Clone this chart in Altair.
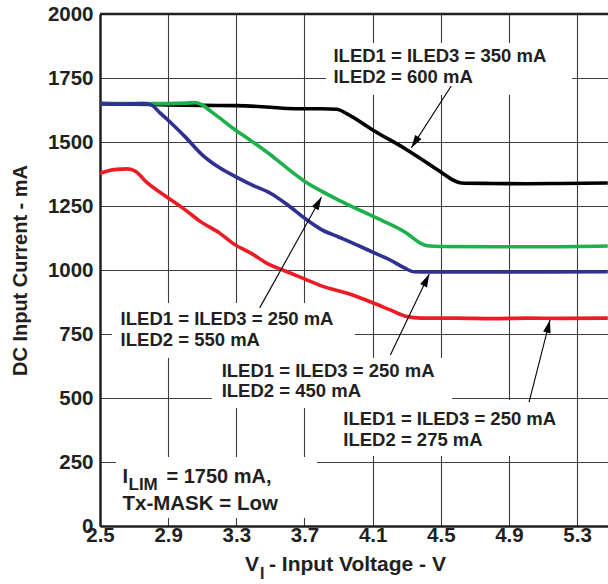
import math
import altair as alt
import pandas as pd

FONT = "Liberation Sans"

# ---------------- data ----------------
x_ticks = [2.5, 2.9, 3.3, 3.7, 4.1, 4.5, 4.9, 5.3]
y_ticks = [0, 250, 500, 750, 1000, 1250, 1500, 1750, 2000]

black_v = [2.5, 2.7, 2.9, 3.1, 3.3, 3.5, 3.6, 3.7, 3.8, 3.89, 3.95, 4.1, 4.3, 4.5, 4.57, 4.62, 4.8, 5.0, 5.2, 5.48]
black_i = [1650, 1648, 1645, 1643, 1642, 1636, 1631, 1630, 1630, 1628, 1610, 1547, 1470, 1383, 1352, 1340, 1338, 1337, 1338, 1340]

green_v = [2.5, 2.8, 3.0, 3.06, 3.1, 3.15, 3.2, 3.28, 3.38, 3.5, 3.6, 3.7, 3.8, 3.9, 4.1, 4.3, 4.38, 4.42, 4.5, 4.8, 5.1, 5.48]
green_i = [1650, 1650, 1652, 1654, 1645, 1620, 1595, 1554, 1508, 1450, 1397, 1347, 1308, 1273, 1210, 1144, 1105, 1095, 1092, 1091, 1091, 1094]

blue_v = [2.5, 2.6, 2.75, 2.8, 2.85, 2.9, 3.0, 3.1, 3.2, 3.3, 3.4, 3.5, 3.6, 3.7, 3.8, 3.9, 4.0, 4.1, 4.2, 4.29, 4.34, 4.45, 4.8, 5.1, 5.48]
blue_i = [1650, 1648, 1650, 1645, 1615, 1585, 1520, 1450, 1400, 1363, 1330, 1300, 1255, 1203, 1158, 1129, 1100, 1070, 1040, 1007, 993, 992, 992, 992, 993]

red_v = [2.5, 2.55, 2.6, 2.66, 2.71, 2.77, 2.89, 3.0, 3.09, 3.2, 3.28, 3.4, 3.48, 3.58, 3.7, 3.8, 3.96, 4.09, 4.2, 4.3, 4.38, 4.6, 4.8, 5.0, 5.2, 5.48]
red_i = [1378, 1388, 1393, 1395, 1385, 1345, 1286, 1235, 1189, 1145, 1104, 1060, 1026, 998, 965, 938, 907, 875, 845, 818, 812, 812, 810, 812, 811, 812]

series_names = ["600", "550", "450", "275"]
series_colors = ["#000000", "#1db14b", "#2e3192", "#ed1c24"]

# annotation text lines (left x in V, baseline in mA)
label_text = [
    "ILED1 = ILED3 = 350 mA", "ILED2 = 600 mA",
    "ILED1 = ILED3 = 250 mA", "ILED2 = 550 mA",
    "ILED1 = ILED3 = 250 mA", "ILED2 = 450 mA",
    "ILED1 = ILED3 = 250 mA", "ILED2 = 275 mA",
]
label_v = [3.870, 3.870, 2.621, 2.621, 3.214, 3.214, 3.928, 3.928]
label_i = [1812, 1730, 785, 703, 582, 504, 395, 312]

# white label boxes (V, mA)
box_v1 = [3.826, 2.570, 3.157, 2.594, 3.879]
box_v2 = [5.270, 3.996, 4.566, 3.773, 5.229]
box_i1 = [1887, 871, 656, 270, 492]
box_i2 = [1684, 656, 461, 31, 273]

# arrows: tail -> tip (V, mA)
arrow_v1 = [4.561, 3.437, 4.204, 5.018]
arrow_i1 = [1719, 852, 668, 484]
arrow_v2 = [4.327, 3.800, 4.432, 5.141]
arrow_i2 = [1477, 1285, 984, 805]

# ---------------- layout ----------------
W, H = 508, 512
X_MAX = 2.5 + W / 170.4
xs = alt.Scale(domain=[2.5, X_MAX], nice=False, zero=False)
ys = alt.Scale(domain=[0, 2000], nice=False)
PX_PER_V = W / (X_MAX - 2.5)
PX_PER_MA = H / 2000

x_axis = alt.Axis(values=x_ticks, format=".1f", title=None, ticks=False, labelFlush=False,
                  labelPadding=-1, grid=True)
y_axis = alt.Axis(values=y_ticks, format="d", title="DC Input Current - mA", ticks=False,
                  labelPadding=7, grid=True, titlePadding=17)


def X(f):
    return alt.X(f, type="quantitative", scale=xs, axis=x_axis)


def Y(f):
    return alt.Y(f, type="quantitative", scale=ys, axis=y_axis)


rows = []
for name, vs, is_ in zip(series_names, [black_v, green_v, blue_v, red_v],
                          [black_i, green_i, blue_i, red_i]):
    for k, (v, i) in enumerate(zip(vs, is_)):
        rows.append({"s": name, "v": v, "i": i, "o": k})
curves = pd.DataFrame(rows)

boxes = pd.DataFrame({"v": box_v1, "v2": box_v2, "i": box_i1, "i2": box_i2})
labels = pd.DataFrame({"t": label_text, "v": label_v, "i": label_i})
arrows = pd.DataFrame({"v": arrow_v1, "i": arrow_i1, "v2": arrow_v2, "i2": arrow_i2})
arrows["ang"] = [
    (math.degrees(math.atan2((b - a) * PX_PER_V, (d - c) * PX_PER_MA)) + 360) % 360
    for a, b, c, d in zip(arrow_v1, arrow_v2, arrow_i1, arrow_i2)
]
tips = pd.DataFrame({"v": arrow_v2, "i": arrow_i2, "ang": arrows["ang"]})

TXT = "#231f20"

base_lines = alt.Chart(curves).mark_line(strokeWidth=3.6, interpolate="monotone").encode(
    x=X("v"), y=Y("i"),
    color=alt.Color("s:N", scale=alt.Scale(domain=series_names, range=series_colors), legend=None),
    order="o:Q",
)

box_layer = alt.Chart(boxes).mark_rect(fill="white", stroke=None).encode(
    x=X("v"), x2="v2", y=Y("i"), y2="i2"
)

top_border = alt.Chart(pd.DataFrame({"i": [2000]})).mark_rule(color=TXT, strokeWidth=2.5).encode(
    y=Y("i")
)

arrow_lines = alt.Chart(arrows).mark_rule(color="black", strokeWidth=1.1).encode(
    x=X("v"), y=Y("i"), x2="v2", y2="i2"
)

arrow_heads = alt.Chart(tips).mark_point(
    shape="M0,0L0.5,1.7L-0.5,1.7Z", filled=True, fill="black", opacity=1, size=231, strokeWidth=0
).encode(x=X("v"), y=Y("i"), angle=alt.Angle("ang:Q", scale=None))

label_layer = alt.Chart(labels).mark_text(
    align="left", baseline="alphabetic", font=FONT, fontSize=18.5, fontWeight="bold", color=TXT
).encode(x=X("v"), y=Y("i"), text="t:N")

# I_LIM note
ilim_v = [2.632]
ilim_i = [168]
tx_i = [62]
ilim_main = alt.Chart(pd.DataFrame({"v": ilim_v, "i": ilim_i, "t": ["I"]})).mark_text(
    align="left", baseline="alphabetic", font=FONT, fontSize=20, fontWeight="bold", color=TXT
).encode(x=X("v"), y=Y("i"), text="t:N")
ilim_sub = alt.Chart(pd.DataFrame({"v": ilim_v, "i": ilim_i, "t": ["LIM"]})).mark_text(
    align="left", baseline="alphabetic", font=FONT, fontSize=17, fontWeight="bold", color=TXT,
    dx=6, dy=7
).encode(x=X("v"), y=Y("i"), text="t:N")
ilim_rest = alt.Chart(pd.DataFrame({"v": ilim_v, "i": ilim_i, "t": ["= 1750 mA,"]})).mark_text(
    align="left", baseline="alphabetic", font=FONT, fontSize=20, fontWeight="bold", color=TXT,
    dx=44
).encode(x=X("v"), y=Y("i"), text="t:N")
tx_line = alt.Chart(pd.DataFrame({"v": ilim_v, "i": tx_i, "t": ["Tx-MASK = Low"]})).mark_text(
    align="left", baseline="alphabetic", font=FONT, fontSize=20.5, fontWeight="bold", color=TXT
).encode(x=X("v"), y=Y("i"), text="t:N")

# x-axis title with subscript
dummy = pd.DataFrame({"t": ["x"]})
xt_v = alt.Chart(dummy).mark_text(
    align="left", baseline="alphabetic", font=FONT, fontSize=21, fontWeight="bold", color=TXT
).encode(x=alt.value(145), y=alt.value(557), text=alt.value("V"))
xt_sub = alt.Chart(dummy).mark_text(
    align="left", baseline="alphabetic", font=FONT, fontSize=16, fontWeight="bold", color=TXT
).encode(x=alt.value(160), y=alt.value(565), text=alt.value("I"))
xt_rest = alt.Chart(dummy).mark_text(
    align="left", baseline="alphabetic", font=FONT, fontSize=21, fontWeight="bold", color=TXT
).encode(x=alt.value(169), y=alt.value(557), text=alt.value("- Input Voltage - V"))

chart = alt.layer(
    box_layer, base_lines, arrow_lines, arrow_heads, top_border,
    label_layer, ilim_main, ilim_sub, ilim_rest, tx_line,
    xt_v, xt_sub, xt_rest,
).properties(
    width=W, height=H,
    autosize=alt.AutoSizeParams(type="none"),
    padding={"left": 100, "top": 14, "right": 0, "bottom": 58},
    background="white",
).configure_view(stroke=None).configure_axis(
    labelFont=FONT, labelFontSize=20.5, labelFontWeight="bold", labelColor=TXT,
    titleFont=FONT, titleFontSize=20, titleFontWeight="bold", titleColor=TXT,
    domainColor=TXT, domainWidth=2.5,
    gridColor="#3c3c3c", gridWidth=1.1, gridOpacity=1,
)

chart.save("out.html", embed_options={"renderer": "svg", "actions": False})
